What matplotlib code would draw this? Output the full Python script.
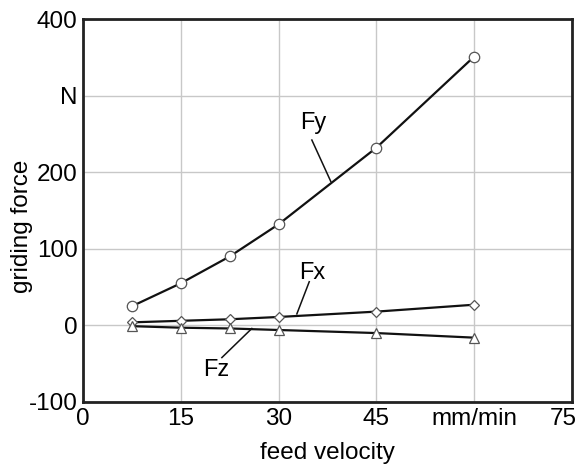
import matplotlib.pyplot as plt
import matplotlib.transforms as mtransforms

plt.rcParams['font.family'] = ['Liberation Sans', 'DejaVu Sans']

# data
feed = [7.5, 15, 22.5, 30, 45, 60]
fy = [25, 55, 90, 132, 232, 351]
fx = [4, 6, 8, 11, 18, 27]
fz = [-1, -3, -4, -6, -10, -16]

xticks = [0, 15, 30, 45, 60, 75]
xticklabels = ["0", "15", "30", "45", "mm/min", "75"]
yticks = [-100, 0, 100, 200, 300, 400]
yticklabels = ["-100", "0", "100", "200", "N", "400"]

fs = 17.5

fig = plt.figure(figsize=(5.83, 4.68), dpi=100)
ax = fig.add_axes([83 / 583, 1 - 402 / 468, (572 - 83) / 583, (402 - 19) / 468])

ax.plot(feed, fy, color="#111111", lw=1.6, marker="o", ms=7.5,
        mfc="white", mec="#555555", mew=0.9, zorder=3)
ax.plot(feed, fx, color="#111111", lw=1.6, marker="D", ms=5.5,
        mfc="white", mec="#555555", mew=0.9, zorder=3)
ax.plot(feed, fz, color="#111111", lw=1.6, marker="^", ms=7,
        mfc="white", mec="#555555", mew=0.9, zorder=3)

# curve labels with leader lines
ax.text(35.3, 264, "Fy", fontsize=17, ha="center", va="center")
ax.plot([35.1, 38.0], [242, 188], color="#111111", lw=1.1)
ax.text(35.1, 69, "Fx", fontsize=17, ha="center", va="center")
ax.plot([34.7, 32.8], [57, 15], color="#111111", lw=1.1)
ax.text(20.5, -58, "Fz", fontsize=17, ha="center", va="center")
ax.plot([21.3, 25.9], [-42, -4], color="#111111", lw=1.1)

ax.set_xlim(0, 75)
ax.set_ylim(-100, 400)
ax.set_xticks(xticks)
ax.set_xticklabels(xticklabels)
ax.set_yticks(yticks)
ax.set_yticklabels(yticklabels)
ax.tick_params(length=0, labelsize=fs, pad=4)
ax.grid(True, color="#c8c8c8", lw=1.0)
ax.set_axisbelow(True)
for s in ax.spines.values():
    s.set_linewidth(2)
    s.set_color("#222222")

# last x label sits a little left so it stays inside the figure
last = ax.get_xticklabels()[-1]
last.set_transform(last.get_transform() +
                   mtransforms.ScaledTranslation(-6 / 72, 0, fig.dpi_scale_trans))

ax.set_xlabel("feed velocity", fontsize=fs, labelpad=9)
ax.set_ylabel("griding force", fontsize=fs)
ax.yaxis.set_label_coords(-0.103, 0.46)

fig.savefig("out.png", dpi=100)
